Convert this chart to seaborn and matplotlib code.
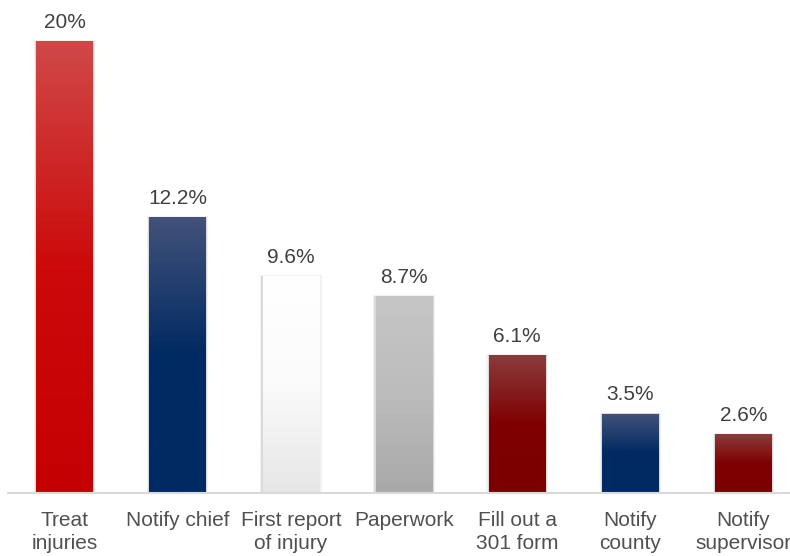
import numpy as np
import pandas as pd
import matplotlib
matplotlib.use("Agg")
import matplotlib.pyplot as plt
from matplotlib.colors import LinearSegmentedColormap
import seaborn as sns

# Survey results: share of responses per first action after an injury
categories = ["Treat\ninjuries", "Notify chief", "First report\nof injury", "Paperwork",
              "Fill out a\n301 form", "Notify\ncounty", "Notify\nsupervisor"]
values = [20.0, 12.2, 9.6, 8.7, 6.1, 3.5, 2.6]
value_labels = ["20%", "12.2%", "9.6%", "8.7%", "6.1%", "3.5%", "2.6%"]

# Vertical gradient stops per bar: (top color, middle color, bottom color)
gradients = [
    ("#d04848", "#cc0a0a", "#c50000"),
    ("#42527a", "#002a62", "#002a62"),
    ("#ffffff", "#fbfbfb", "#e6e6e6"),
    ("#c6c6c6", "#bcbcbc", "#a9a9a9"),
    ("#8a3c3c", "#7f0000", "#7d0000"),
    ("#42527a", "#002a62", "#002a62"),
    ("#8a3c3c", "#7f0000", "#7d0000"),
]

df = pd.DataFrame({"category": categories, "value": values})

sns.set_theme(style="white")
plt.rcParams["font.family"] = ["Liberation Sans", "DejaVu Sans"]

fig = plt.figure(figsize=(7.9, 5.56), dpi=100)
ax = fig.add_axes([8 / 790, 63 / 556, 792 / 790, 493 / 556])

sns.barplot(data=df, x="category", y="value", order=categories, width=0.5,
            color="#ffffff", edgecolor="none", ax=ax)

ax.set_xlim(-0.5, len(categories) - 0.5)
ax.set_ylim(0, 493 / 22.6)

for patch, grad in zip(ax.patches, gradients):
    x0, y0 = patch.get_x(), patch.get_y()
    w, h = patch.get_width(), patch.get_height()
    cmap = LinearSegmentedColormap.from_list("bar", [(0, grad[2]), (0.5, grad[1]), (1, grad[0])])
    grad_img = np.linspace(0, 1, 256).reshape(-1, 1)
    # thin soft shadow along the bar sides
    for k, a in [(0.022, 0.10), (0.011, 0.22)]:
        ax.add_patch(plt.Rectangle((x0 - k, y0), w + 2 * k, h + k * 2,
                                   facecolor="#888888", alpha=a, edgecolor="none", zorder=1.5))
    im = ax.imshow(grad_img, cmap=cmap, aspect="auto", origin="lower",
                   extent=(x0, x0 + w, y0, y0 + h), zorder=2, interpolation="bicubic")
    im.set_clip_path(patch)
    patch.set_zorder(2)

for i, (v, lab) in enumerate(zip(values, value_labels)):
    ax.text(i, v + 0.42, lab, ha="center", va="bottom", fontsize=15, color="#404040")

ax.set_xlabel("")
ax.set_ylabel("")
ax.set_yticks([])
ax.tick_params(axis="x", length=0, pad=13, labelsize=15, labelcolor="#505050")
for lbl in ax.get_xticklabels():
    lbl.set_linespacing(1.27)
for side in ["top", "right", "left"]:
    ax.spines[side].set_visible(False)
ax.spines["bottom"].set_color("#d9d9d9")
ax.spines["bottom"].set_linewidth(1.5)

fig.savefig("out.png", dpi=100)
